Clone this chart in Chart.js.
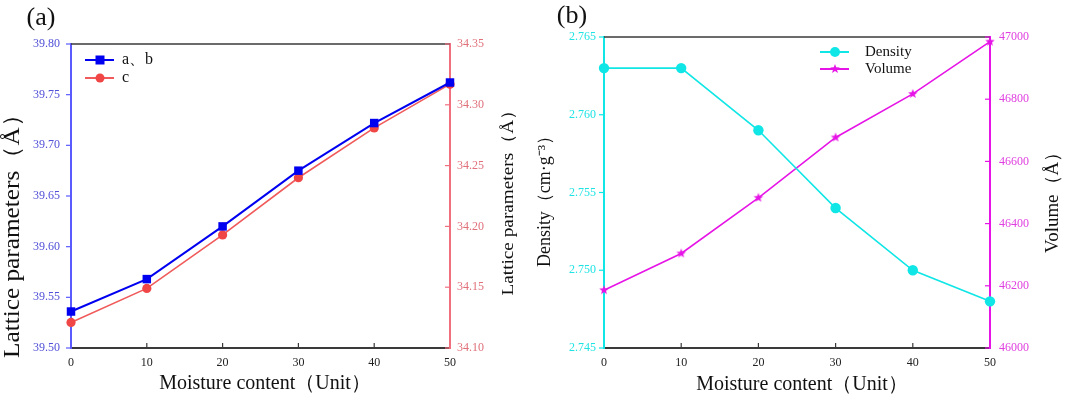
<!DOCTYPE html>
<html>
<head>
<meta charset="utf-8">
<script src="https://cdn.jsdelivr.net/npm/chart.js@4.4.1/dist/chart.umd.min.js"></script>
<style>
  html, body { margin: 0; padding: 0; background: #fff; overflow: hidden; }
  #wrap { position: relative; width: 1065px; height: 398px; }
  #chartA { position: absolute; left: 0; top: 0; }
  #chartB { position: absolute; left: 532px; top: 0; }
</style>
</head>
<body>
<div id="wrap">
  <canvas id="chartA" width="532" height="398"></canvas>
  <canvas id="chartB" width="533" height="398"></canvas>
</div>
<script>
const serif = "'Liberation Serif', 'Times New Roman', serif";

// x values shared by both panels
const moisture = [0, 10, 20, 30, 40, 50];

// panel (a): lattice parameters
const latticeAB = [39.536, 39.568, 39.620, 39.675, 39.722, 39.762];
const latticeC = [34.121, 34.149, 34.193, 34.240, 34.281, 34.317];

// panel (b): density and volume
const density = [2.763, 2.763, 2.759, 2.754, 2.750, 2.748];
const volume = [46186, 46304, 46483, 46677, 46817, 46985];

const legendA = ['a、b', 'c'];
const legendB = ['Density', 'Volume'];
const xTitle = 'Moisture content（Unit）';

// colours
const blue = '#0000f0', blueAxis = '#5a5aff', blueText = '#5050d8';
const red = '#f04646', redLine = '#f05a5a', redAxis = '#f07080', redText = '#e0707a';
const cyan = '#10e6e6', cyanText = '#20e4e4';
const magenta = '#e614e6', magentaText = '#e040e0';

function toPoints(ys) {
  return moisture.map((x, i) => ({ x: x, y: ys[i] }));
}

// chart.js 'star' is only strokes, the figure uses a filled star
function makeStar(r, color) {
  const c = document.createElement('canvas');
  const s = Math.ceil(r * 2 + 2);
  c.width = s; c.height = s;
  const g = c.getContext('2d');
  g.fillStyle = color;
  g.beginPath();
  for (let i = 0; i < 10; i++) {
    const rad = i % 2 ? r * 0.42 : r;
    const a = -Math.PI / 2 + i * Math.PI / 5;
    g.lineTo(s / 2 + rad * Math.cos(a), s / 2 + rad * Math.sin(a));
  }
  g.closePath();
  g.fill();
  return c;
}
const starImg = makeStar(5, magenta);

function xAxis() {
  return {
    type: 'linear', position: 'bottom', min: 0, max: 50,
    ticks: { stepSize: 10, color: '#222', padding: 8, maxRotation: 0, font: { family: serif, size: 12 } },
    grid: { display: true, drawOnChartArea: false, drawTicks: false },
    border: { display: true, color: '#3a3a3a', width: 2 },
    afterFit(s) { s.height = 50; }
  };
}

function yAxis(pos, min, max, step, digits, color, lineColor, pad, width) {
  return {
    type: 'linear', position: pos, min: min, max: max,
    ticks: { stepSize: step, color: color, padding: pad, font: { family: serif, size: 12 },
      callback: v => Number(v).toFixed(digits) },
    grid: { display: true, drawOnChartArea: false, drawTicks: false },
    border: { display: true, color: lineColor, width: 2 },
    afterFit(s) { s.width = width; }
  };
}

// rotated axis title, stretched along its length to the span seen in the figure
function drawRotated(ctx, text, x, y, size, len) {
  ctx.save();
  ctx.translate(x, y);
  ctx.rotate(-Math.PI / 2);
  ctx.font = size + 'px ' + serif;
  ctx.textAlign = 'center';
  ctx.textBaseline = 'middle';
  const w = ctx.measureText(text).width;
  if (len) ctx.scale(len / w, 1);
  ctx.fillText(text, 0, 0);
  ctx.restore();
}

function drawMarker(ctx, style, x, y, color) {
  ctx.fillStyle = color;
  if (style === 'rect') {
    ctx.fillRect(x - 4.5, y - 4.5, 9, 9);
  } else if (style === 'star') {
    ctx.drawImage(starImg, x - starImg.width / 2, y - starImg.height / 2);
  } else {
    ctx.beginPath();
    ctx.arc(x, y, style === 'big' ? 5 : 4.5, 0, Math.PI * 2);
    ctx.fill();
  }
}

// frame, inward/outward tick marks, titles and legend
function decorPlugin(d) {
  return {
    id: 'decor',
    beforeDatasetsDraw(chart) {
      const ctx = chart.ctx, a = chart.chartArea;
      const yl = chart.scales.yL, yr = chart.scales.yR, sx = chart.scales.x;
      ctx.save();
      ctx.strokeStyle = '#3a3a3a';
      ctx.lineWidth = 1.5;
      ctx.beginPath();
      ctx.moveTo(a.left, a.top);
      ctx.lineTo(a.right, a.top);
      ctx.stroke();
      ctx.lineWidth = 1.2;
      sx.ticks.forEach(t => {
        if (t.value <= 0 || t.value >= 50) return;
        const px = sx.getPixelForValue(t.value);
        ctx.beginPath();
        ctx.moveTo(px, a.bottom);
        ctx.lineTo(px, a.bottom - 5);
        ctx.stroke();
      });
      ctx.strokeStyle = d.leftAxis;
      yl.ticks.forEach(t => {
        const py = yl.getPixelForValue(t.value);
        ctx.beginPath();
        ctx.moveTo(a.left - 5, py);
        ctx.lineTo(a.left, py);
        ctx.stroke();
      });
      ctx.strokeStyle = d.rightAxis;
      yr.ticks.forEach(t => {
        const py = yr.getPixelForValue(t.value);
        ctx.beginPath();
        ctx.moveTo(a.right - 5, py);
        ctx.lineTo(a.right, py);
        ctx.stroke();
      });
      ctx.restore();
    },
    afterDraw(chart) {
      const ctx = chart.ctx;
      ctx.save();
      ctx.fillStyle = '#111';
      ctx.font = '26px ' + serif;
      ctx.textAlign = 'center';
      ctx.textBaseline = 'middle';
      ctx.fillText(d.panel, d.panelPos[0], d.panelPos[1]);
      ctx.font = '20px ' + serif;
      ctx.fillText(xTitle, d.xTitlePos[0], d.xTitlePos[1]);
      drawRotated(ctx, d.leftTitle, ...d.leftTitlePos);
      drawRotated(ctx, d.rightTitle, ...d.rightTitlePos);

      // legend
      d.legend.forEach((item, i) => {
        const y = d.legendPos[1] + i * d.legendGap;
        const x0 = d.legendPos[0];
        ctx.strokeStyle = item.line;
        ctx.lineWidth = 2;
        ctx.beginPath();
        ctx.moveTo(x0, y);
        ctx.lineTo(x0 + 29, y);
        ctx.stroke();
        drawMarker(ctx, item.marker, x0 + 15, y, item.color);
        ctx.fillStyle = '#111';
        ctx.font = d.legendFont + 'px ' + serif;
        ctx.textAlign = 'left';
        ctx.textBaseline = 'middle';
        ctx.fillText(item.label, x0 + d.legendText, y);
      });
      ctx.restore();
    }
  };
}

// panel (a)
new Chart(document.getElementById('chartA'), {
  type: 'line',
  data: {
    datasets: [
      { label: legendA[0], data: toPoints(latticeAB), yAxisID: 'yL', borderColor: blue, backgroundColor: blue,
        borderWidth: 2, pointStyle: 'rect', pointRadius: 6, pointBorderWidth: 0, clip: false },
      { label: legendA[1], data: toPoints(latticeC), yAxisID: 'yR', borderColor: redLine, backgroundColor: red,
        borderWidth: 1.6, pointStyle: 'circle', pointRadius: 4.6, pointBorderWidth: 0, clip: false }
    ]
  },
  options: {
    responsive: false,
    animation: false,
    layout: { padding: { top: 44, left: 0, right: 0, bottom: 0 } },
    plugins: { legend: { display: false }, tooltip: { enabled: false } },
    scales: {
      x: xAxis(),
      yL: yAxis('left', 39.5, 39.8, 0.05, 2, blueText, blueAxis, 11, 71),
      yR: yAxis('right', 34.10, 34.35, 0.05, 2, redText, redAxis, 7, 82)
    }
  },
  plugins: [decorPlugin({
    panel: '(a)', panelPos: [41, 18],
    xTitlePos: [265, 384],
    leftTitle: 'Lattice parameters（Å）', leftTitlePos: [13, 230, 23, 256],
    rightTitle: 'Lattice parameters（Å）', rightTitlePos: [509, 198, 17, 195],
    leftAxis: blueAxis, rightAxis: redAxis,
    legend: [
      { label: legendA[0], line: blue, color: blue, marker: 'rect' },
      { label: legendA[1], line: redLine, color: red, marker: 'circle' }
    ],
    legendPos: [85, 60], legendGap: 18, legendText: 37, legendFont: 16
  })]
});

// panel (b)
new Chart(document.getElementById('chartB'), {
  type: 'line',
  data: {
    datasets: [
      { label: legendB[0], data: toPoints(density), yAxisID: 'yL', borderColor: cyan, backgroundColor: cyan,
        borderWidth: 1.6, pointStyle: 'circle', pointRadius: 5.2, pointBorderWidth: 0, clip: false },
      { label: legendB[1], data: toPoints(volume), yAxisID: 'yR', borderColor: magenta, backgroundColor: magenta,
        borderWidth: 1.6, pointStyle: starImg, clip: false }
    ]
  },
  options: {
    responsive: false,
    animation: false,
    layout: { padding: { top: 37, left: 0, right: 0, bottom: 0 } },
    plugins: { legend: { display: false }, tooltip: { enabled: false } },
    scales: {
      x: xAxis(),
      yL: yAxis('left', 2.745, 2.765, 0.005, 3, cyanText, cyan, 8, 72),
      yR: yAxis('right', 46000, 47000, 200, 0, magentaText, magenta, 9, 75)
    }
  },
  plugins: [decorPlugin({
    panel: '(b)', panelPos: [40, 16],
    xTitlePos: [270, 385],
    leftTitle: 'Density（cm·g⁻³）', leftTitlePos: [13, 197, 18, 140],
    rightTitle: 'Volume（Å）', rightTitlePos: [521, 198, 19, 110],
    leftAxis: cyan, rightAxis: magenta,
    legend: [
      { label: legendB[0], line: cyan, color: cyan, marker: 'big' },
      { label: legendB[1], line: magenta, color: magenta, marker: 'star' }
    ],
    legendPos: [288, 52], legendGap: 17, legendText: 45, legendFont: 15
  })]
});
</script>
</body>
</html>
